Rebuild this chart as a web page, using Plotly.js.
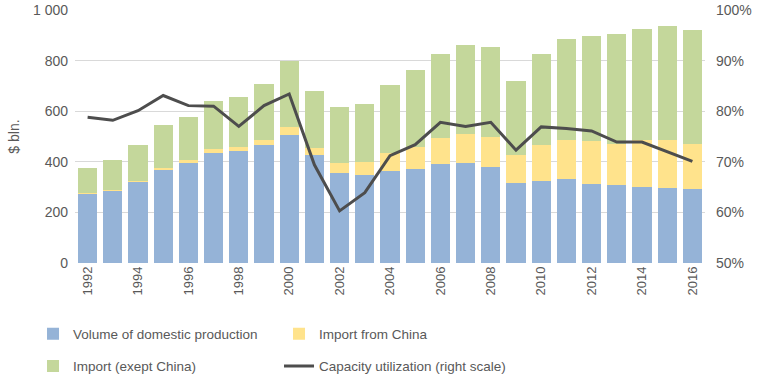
<!DOCTYPE html>
<html>
<head>
<meta charset="utf-8">
<script src="https://cdn.plot.ly/plotly-3.0.1.min.js"></script>
<style>html,body{margin:0;padding:0;background:#fff;}#chart{width:759px;height:382px;}</style>
</head>
<body>
<div id="chart"></div>
<script>
const years = [1992,1993,1994,1995,1996,1997,1998,1999,2000,2001,2002,2003,2004,2005,2006,2007,2008,2009,2010,2011,2012,2013,2014,2015,2016];
const domestic = [273,285,322,369,396,435,443,467,507,427,356,348,364,372,392,396,380,317,325,332,313,309,301,297,293];
const importChina = [5,5,4,8,13,17,17,21,29,29,40,52,69,87,103,115,119,110,142,155,170,163,186,190,178];
const importOther = [98,118,141,169,169,187,197,220,261,225,221,229,271,305,332,352,356,293,360,400,415,434,439,451,451];
const capacity = [78.8,78.2,80.1,83.1,81.1,81.0,77.0,81.1,83.4,69.4,60.3,63.9,71.2,73.4,77.8,77.0,77.8,72.3,76.9,76.6,76.1,73.9,73.9,72.0,70.1];
const names = ["Volume of domestic production","Import from China","Import (exept China)","Capacity utilization (right scale)"];

const fam = "Liberation Sans, Arial, sans-serif";
const font = {family: fam, size: 13, color: "#595959"};
const traces = [
  {type:"bar", x:years, y:domestic, name:names[0], marker:{color:"#95B3D7"}, legend:"legend"},
  {type:"bar", x:years, y:importChina, name:names[1], marker:{color:"#FFE38C"}, legend:"legend"},
  {type:"bar", x:years, y:importOther, name:names[2], marker:{color:"#C4D79B"}, legend:"legend2"},
  {type:"scatter", mode:"lines", x:years, y:capacity, name:names[3], yaxis:"y2", line:{color:"#4D4D4D", width:3}, legend:"legend2"}
];
const legCommon = {orientation:"h", xref:"container", yref:"container", x:0.0435, xanchor:"left", yanchor:"top", entrywidth:201, entrywidthmode:"pixels", font:{family:fam, size:13.5, color:"#595959"}, traceorder:"normal", bgcolor:"rgba(0,0,0,0)"};
const layout = {
  width:759, height:382,
  margin:{l:75, r:54, t:10, b:119},
  barmode:"stack", bargap:0.24,
  separators:". ",
  font:font,
  plot_bgcolor:"#fff", paper_bgcolor:"#fff",
  showlegend:true,
  legend:Object.assign({}, legCommon, {y:0.166}),
  legend2:Object.assign({}, legCommon, {y:0.082}),
  xaxis:{type:"linear", range:[1991.5,2016.5], tick0:1992, dtick:2, tickangle:-90, showgrid:false, zeroline:false, showline:false, ticks:"", tickfont:{size:13}},
  yaxis:{range:[0,1000], dtick:200, tickformat:",d", gridcolor:"#D9D9D9", zeroline:false, showline:false, ticks:"", tickfont:{size:14}, ticklabelstandoff:6, title:{text:"$ bln.", font:{size:14, color:"#595959"}, standoff:10}},
  yaxis2:{overlaying:"y", side:"right", range:[50,100], dtick:10, ticksuffix:"%", showgrid:false, zeroline:false, showline:false, ticks:"", tickfont:{size:14}, ticklabelstandoff:10}
};
Plotly.newPlot("chart", traces, layout, {staticPlot:true, displayModeBar:false});
</script>
</body>
</html>
